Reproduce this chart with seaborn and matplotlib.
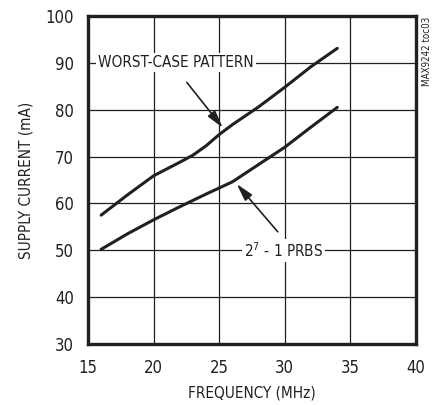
import matplotlib
matplotlib.use("Agg")
import matplotlib.pyplot as plt
import seaborn as sns
import pandas as pd

# Supply current vs frequency
freq_worst = [16, 18, 20, 22, 23, 24, 25, 26, 28, 30, 32, 34]
curr_worst = [57.5, 61.8, 65.9, 68.8, 70.3, 72.3, 74.7, 76.8, 80.6, 84.8, 89.2, 93.1]
freq_prbs = [16, 18, 20, 22, 24, 26, 28, 30, 32, 34]
curr_prbs = [50.2, 53.5, 56.5, 59.3, 62.0, 64.6, 68.3, 72.0, 76.3, 80.5]

x_ticks = [15, 20, 25, 30, 35, 40]
y_ticks = [30, 40, 50, 60, 70, 80, 90, 100]

sns.set_style("white")
plt.rcParams['font.family'] = ['DejaVu Sans']
plt.rcParams['font.stretch'] = 'condensed'

df = pd.concat([
    pd.DataFrame({"freq": freq_worst, "current": curr_worst, "pattern": "WORST-CASE PATTERN"}),
    pd.DataFrame({"freq": freq_prbs, "current": curr_prbs, "pattern": "PRBS"}),
])

fig = plt.figure(figsize=(4.39, 4.05), dpi=100)
ax = fig.add_axes([88 / 439, 1 - 344 / 405, (416 - 88) / 439, (344 - 16) / 405])

sns.lineplot(data=df, x="freq", y="current", hue="pattern", palette=["#231f20", "#231f20"],
             linewidth=2.2, legend=False, ax=ax, zorder=3)

ax.set_xlim(15, 40)
ax.set_ylim(30, 100)
ax.set_xticks(x_ticks)
ax.set_yticks(y_ticks)
ax.tick_params(length=0, labelsize=12, colors="#231f20")
ax.tick_params(axis="x", pad=11)
ax.tick_params(axis="y", pad=10)
ax.grid(True, color="#231f20", linewidth=0.9)
for s in ax.spines.values():
    s.set_linewidth(2.4)
    s.set_color("#231f20")

ax.set_xlabel("FREQUENCY (MHz)", fontsize=11, color="#231f20", labelpad=6)
ax.set_ylabel("SUPPLY CURRENT (mA)", fontsize=11, color="#231f20", labelpad=9)

# annotations
arrow_style = dict(arrowstyle="-|>,head_length=0.75,head_width=0.2", color="#231f20", lw=1.2,
                   mutation_scale=14)
ax.text(21.7, 90, "WORST-CASE PATTERN", fontsize=11, ha="center", va="center", color="#231f20",
        bbox=dict(facecolor="white", edgecolor="none", pad=1.5), zorder=4)
ax.annotate("", xy=(25.4, 75.7), xytext=(22.4, 86.3), arrowprops=arrow_style, zorder=4)

ax.text(29.9, 50, "2$^7$ - 1 PRBS", fontsize=11, ha="center", va="center", color="#231f20",
        bbox=dict(facecolor="white", edgecolor="none", pad=1.5), zorder=4)
ax.annotate("", xy=(26.2, 64.6), xytext=(29.6, 53.5), arrowprops=arrow_style, zorder=4)

fig.text(427 / 439, 1 - 17 / 405, "MAX9242 toc03", rotation=90, fontsize=7, ha="center", va="top",
         color="#231f20")

fig.savefig("out.png", dpi=100)
